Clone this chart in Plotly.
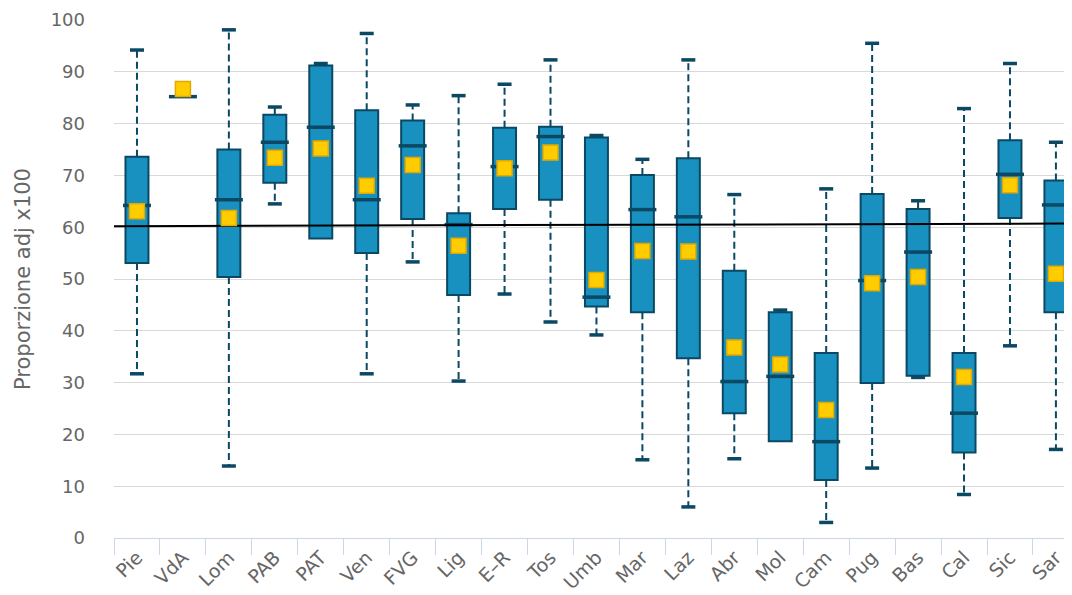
import plotly.graph_objects as go
import numpy as np

regions = ["Pie", "VdA", "Lom", "PAB", "PAT", "Ven", "FVG", "Lig", "E–R", "Tos", "Umb",
           "Mar", "Laz", "Abr", "Mol", "Cam", "Pug", "Bas", "Cal", "Sic", "Sar"]
low    = [31.7, 85.2, 13.9, 64.5, 57.8, 31.7, 53.3, 30.3, 47.1, 41.7, 39.2,
          15.1, 6.0, 15.3, 18.7, 3.0, 13.5, 31.0, 8.4, 37.1, 17.1]
q1     = [53.1, 85.2, 50.4, 68.6, 57.8, 55.0, 61.6, 46.9, 63.5, 65.3, 44.7,
          43.6, 34.7, 24.1, 18.7, 11.2, 29.9, 31.3, 16.5, 61.8, 43.6]
median = [64.2, 85.2, 65.3, 76.4, 79.3, 65.3, 75.7, 60.5, 71.7, 77.5, 46.5,
          63.4, 62.0, 30.2, 31.2, 18.6, 49.7, 55.2, 24.1, 70.2, 64.3]
q3     = [73.6, 85.2, 75.0, 81.7, 91.2, 82.6, 80.6, 62.7, 79.2, 79.4, 77.3,
          70.1, 73.3, 51.6, 43.6, 35.7, 66.4, 63.5, 35.7, 76.8, 69.0]
high   = [94.2, 85.2, 98.1, 83.2, 91.6, 97.4, 83.6, 85.4, 87.6, 92.3, 77.7,
          73.1, 92.3, 66.3, 44.0, 67.4, 95.5, 65.1, 82.9, 91.6, 76.4]
mean   = [63.1, 86.7, 61.8, 73.4, 75.2, 68.0, 72.0, 56.4, 71.4, 74.4, 49.8,
          55.4, 55.3, 36.8, 33.5, 24.7, 49.2, 50.4, 31.1, 68.1, 51.0]
ref_line = [60.2, 60.7]
y_ticks = [0, 10, 20, 30, 40, 50, 60, 70, 80, 90, 100]

BOX_FILL = "#1891c0"
DARK = "#0a4863"

x = np.arange(len(regions))

fig = go.Figure()

# whiskers (dashed)
wx, wy = [], []
for i in range(len(regions)):
    if high[i] > q3[i]:
        wx += [x[i], x[i], None]
        wy += [q3[i], high[i], None]
    if low[i] < q1[i]:
        wx += [x[i], x[i], None]
        wy += [q1[i], low[i], None]
fig.add_trace(go.Scatter(x=wx, y=wy, mode="lines",
                         line=dict(color=DARK, width=2, dash="7px,4px"),
                         hoverinfo="skip", showlegend=False))
# caps
cx = [x[i] for i in range(len(regions)) if high[i] > q3[i]] + \
     [x[i] for i in range(len(regions)) if low[i] < q1[i]]
cy = [high[i] for i in range(len(regions)) if high[i] > q3[i]] + \
     [low[i] for i in range(len(regions)) if low[i] < q1[i]]
fig.add_trace(go.Scatter(x=cx, y=cy, mode="markers",
                         marker=dict(symbol="line-ew", size=10,
                                     line=dict(color=DARK, width=3.5)),
                         hoverinfo="skip", showlegend=False))

# boxes
fig.add_trace(go.Bar(x=x, y=[b - a for a, b in zip(q1, q3)], base=q1, width=0.5,
                     marker=dict(color=BOX_FILL, line=dict(color=DARK, width=2)),
                     hoverinfo="skip", showlegend=False))
# medians
fig.add_trace(go.Scatter(x=x, y=median, mode="markers",
                         marker=dict(symbol="line-ew", size=20,
                                     line=dict(color=DARK, width=3.5)),
                         hoverinfo="skip", showlegend=False))

# reference line
fig.add_trace(go.Scatter(x=[-0.5, len(regions) - 0.5], y=ref_line, mode="lines",
                         line=dict(color="#000000", width=2),
                         hoverinfo="skip", showlegend=False))

# means
fig.add_trace(go.Scatter(x=x, y=mean, mode="markers",
                         marker=dict(symbol="square", size=15, color="#ffcc00",
                                     line=dict(color="#e3a900", width=1.5)),
                         showlegend=False))

fig.update_layout(
    width=1064, height=587,
    margin=dict(l=106, r=0, t=12, b=57),
    paper_bgcolor="white", plot_bgcolor="white",
    barmode="overlay",
    font=dict(family="DejaVu Sans", color="#666666"),
)
fig.update_xaxes(
    range=[-0.5, len(regions) - 0.65],
    tickmode="array", tickvals=x, ticktext=regions,
    ticks="", tickangle=-45, tickfont=dict(size=19, color="#666666"),
    showgrid=False, zeroline=False,
    showline=True, linecolor="#ccd6eb", linewidth=1,
    minor=dict(tickmode="array", tickvals=list(np.arange(len(regions) + 1) - 0.5),
               ticks="outside", ticklen=16, tickcolor="#ccd6eb", tickwidth=1,
               showgrid=False),
)
fig.update_yaxes(
    range=[0, 100], tickmode="array", tickvals=y_ticks,
    tickfont=dict(size=18, color="#666666"),
    showgrid=True, gridcolor="#d9d9d9", gridwidth=1,
    zeroline=False, showline=False, ticks="",
    ticklabelstandoff=28,
    title=dict(text="Proporzione adj x100", font=dict(size=21, color="#666666"),
               standoff=14),
)

fig.write_html("out.html")
